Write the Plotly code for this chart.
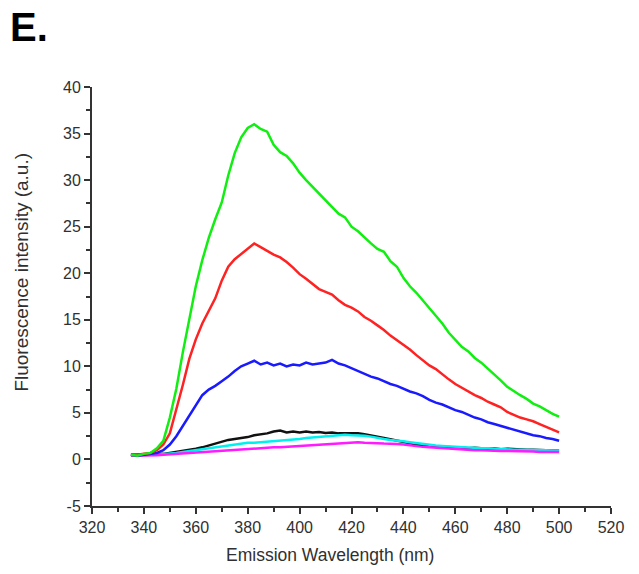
import plotly.graph_objects as go

# Emission wavelengths (nm)
wavelength = [335, 337.5, 340, 342.5, 345, 347.5, 350, 352.5, 355, 357.5,
              360, 362.5, 365, 367.5, 370, 372.5, 375, 377.5, 380, 382.5,
              385, 387.5, 390, 392.5, 395, 397.5, 400, 402.5, 405, 407.5,
              410, 412.5, 415, 417.5, 420, 422.5, 425, 427.5, 430, 432.5,
              435, 437.5, 440, 442.5, 445, 447.5, 450, 452.5, 455, 457.5,
              460, 462.5, 465, 467.5, 470, 472.5, 475, 477.5, 480, 482.5,
              485, 487.5, 490, 492.5, 495, 497.5, 500]

green = [0.5, 0.4, 0.6, 0.7, 1.2, 2.0, 4.5, 7.6, 11.5, 15.2,
         18.6, 21.4, 23.8, 25.8, 27.6, 30.5, 32.9, 34.6, 35.6, 36.0,
         35.5, 35.2, 33.8, 33.0, 32.6, 31.8, 30.8, 30.0, 29.3, 28.6,
         27.9, 27.2, 26.4, 26.0, 25.0, 24.5, 23.8, 23.2, 22.6, 22.3,
         21.3, 20.7, 19.5, 18.6, 17.9, 17.1, 16.3, 15.5, 14.6, 13.6,
         12.8, 12.1, 11.6, 10.9, 10.4, 9.8, 9.2, 8.5, 7.8, 7.3,
         6.9, 6.5, 6.0, 5.7, 5.3, 4.9, 4.6]

red = [0.5, 0.5, 0.6, 0.7, 1.0, 1.6, 2.8, 5.3, 8.0, 10.8,
       12.9, 14.6, 15.9, 17.3, 19.2, 20.7, 21.5, 22.1, 22.6, 23.2,
       22.8, 22.4, 22.0, 21.7, 21.2, 20.6, 19.9, 19.4, 18.8, 18.3,
       18.0, 17.7, 17.1, 16.6, 16.3, 15.9, 15.3, 14.9, 14.4, 13.9,
       13.3, 12.8, 12.3, 11.8, 11.2, 10.7, 10.1, 9.7, 9.1, 8.6,
       8.1, 7.7, 7.3, 6.9, 6.6, 6.2, 5.9, 5.6, 5.1, 4.8,
       4.5, 4.3, 4.1, 3.8, 3.5, 3.2, 2.9]

blue = [0.5, 0.4, 0.5, 0.6, 0.7, 1.0, 1.6, 2.5, 3.6, 4.8,
        5.9, 6.9, 7.5, 7.9, 8.4, 8.9, 9.5, 10.0, 10.3, 10.6,
        10.2, 10.4, 10.1, 10.3, 10.0, 10.2, 10.1, 10.4, 10.2, 10.3,
        10.4, 10.7, 10.3, 10.1, 9.8, 9.5, 9.2, 8.9, 8.7, 8.4,
        8.1, 7.9, 7.6, 7.3, 7.1, 6.8, 6.4, 6.1, 5.9, 5.6,
        5.3, 5.1, 4.8, 4.5, 4.3, 4.0, 3.8, 3.6, 3.4, 3.2,
        3.0, 2.8, 2.6, 2.5, 2.3, 2.2, 2.0]

black = [0.5, 0.5, 0.5, 0.5, 0.55, 0.6, 0.7, 0.8, 0.9, 1.0,
         1.15, 1.3, 1.5, 1.7, 1.9, 2.1, 2.2, 2.3, 2.4, 2.6,
         2.7, 2.8, 3.0, 3.1, 2.9, 3.0, 2.9, 3.0, 2.9, 2.95,
         2.85, 2.9, 2.8, 2.8, 2.75, 2.8, 2.7, 2.6, 2.45, 2.3,
         2.15, 2.0, 1.85, 1.7, 1.6, 1.5, 1.45, 1.4, 1.35, 1.3,
         1.3, 1.25, 1.2, 1.25, 1.2, 1.15, 1.2, 1.1, 1.15, 1.1,
         1.1, 1.05, 1.05, 1.0, 1.0, 0.95, 0.95]

cyan = [0.4, 0.45, 0.45, 0.5, 0.5, 0.55, 0.65, 0.7, 0.8, 0.9,
        1.0, 1.1, 1.2, 1.3, 1.4, 1.5, 1.6, 1.7, 1.8, 1.8,
        1.85, 1.95, 2.0, 2.05, 2.1, 2.15, 2.2, 2.3, 2.35, 2.4,
        2.5, 2.55, 2.6, 2.65, 2.6, 2.6, 2.55, 2.45, 2.3, 2.2,
        2.1, 2.05, 1.95, 1.85, 1.75, 1.65, 1.55, 1.5, 1.45, 1.4,
        1.35, 1.3, 1.3, 1.25, 1.2, 1.2, 1.15, 1.1, 1.1, 1.05,
        1.05, 1.05, 1.0, 1.0, 1.0, 0.95, 0.95]

magenta = [0.4, 0.4, 0.4, 0.45, 0.45, 0.5, 0.55, 0.6, 0.65, 0.7,
           0.75, 0.8, 0.85, 0.9, 0.95, 1.0, 1.05, 1.1, 1.15, 1.15,
           1.2, 1.25, 1.3, 1.3, 1.35, 1.4, 1.45, 1.45, 1.5, 1.55,
           1.6, 1.7, 1.75, 1.8, 1.85, 1.85, 1.8, 1.8, 1.75, 1.7,
           1.7, 1.65, 1.6, 1.5, 1.45, 1.35, 1.3, 1.25, 1.2, 1.15,
           1.1, 1.1, 1.05, 1.0, 1.0, 0.95, 0.95, 0.9, 0.9, 0.9,
           0.9, 0.85, 0.85, 0.8, 0.8, 0.8, 0.8]

x_ticks = [320, 340, 360, 380, 400, 420, 440, 460, 480, 500, 520]
y_ticks = [-5, 0, 5, 10, 15, 20, 25, 30, 35, 40]
y_tick_text = ["-5", "0", "5", "10", "15", "20", "25", "30", "35", "40"]

series = [
    (black, "#111111"),
    (cyan, "#00f0f0"),
    (magenta, "#ff1aff"),
    (blue, "#1a1aff"),
    (red, "#ff2222"),
    (green, "#11ee11"),
]

fig = go.Figure()
for values, color in series:
    fig.add_trace(go.Scatter(
        x=wavelength, y=values, mode="lines",
        line=dict(color=color, width=2.5),
        showlegend=False, hoverinfo="skip",
    ))

FONT = "Liberation Sans, Arial, sans-serif"
axis_font = dict(family=FONT, size=16, color="#303030")

fig.update_xaxes(
    range=[320, 520], tickmode="array", tickvals=x_ticks,
    showgrid=False, zeroline=False,
    showline=True, linecolor="#333333", linewidth=2,
    ticks="outside", ticklen=6, tickwidth=2, tickcolor="#333333",
    minor=dict(ticks="outside", ticklen=4, tickwidth=1.5, tickcolor="#333333", dtick=10, tick0=320),
    tickfont=axis_font,
)
fig.update_yaxes(
    range=[-5, 40], tickmode="array", tickvals=y_ticks, ticktext=y_tick_text,
    showgrid=False, zeroline=False,
    showline=True, linecolor="#333333", linewidth=2,
    ticks="outside", ticklen=6, tickwidth=2, tickcolor="#333333",
    minor=dict(ticks="outside", ticklen=4, tickwidth=1.5, tickcolor="#333333", dtick=2.5, tick0=-5),
    tickfont=axis_font,
)

# Axis titles
fig.add_annotation(
    text="Emission Wavelength (nm)", xref="paper", yref="paper",
    x=0.459, y=-0.118, xanchor="center", yanchor="middle", showarrow=False,
    font=dict(family=FONT, size=17.5, color="#303030"),
)
fig.add_annotation(
    text="Fluorescence intensity (a.u.)", xref="paper", yref="paper",
    x=-0.136, y=0.558, xanchor="center", yanchor="middle", showarrow=False,
    textangle=-90,
    font=dict(family=FONT, size=19, color="#303030"),
)

# Panel label
fig.add_annotation(
    text="<b>E.</b>", xref="paper", yref="paper",
    x=-0.162, y=1.085, xanchor="left", yanchor="bottom", showarrow=False,
    font=dict(family=FONT, size=40, color="#000000"),
)

fig.update_layout(
    width=639, height=574,
    margin=dict(l=92, r=28, t=87, b=68, autoexpand=False),
    plot_bgcolor="white", paper_bgcolor="white",
)

fig.write_html("out.html")
